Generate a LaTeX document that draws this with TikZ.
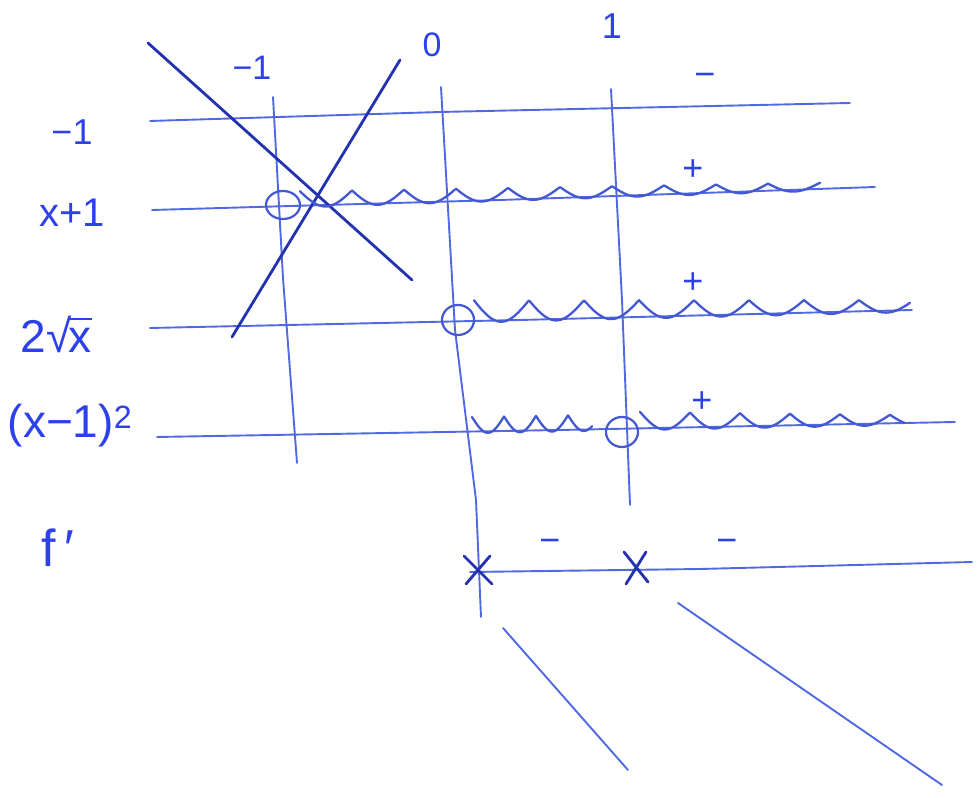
\documentclass[tikz,border=0pt]{standalone}
\usepackage{fontspec}
\setmainfont{Liberation Sans}
\usetikzlibrary{calc}
\definecolor{gridc}{RGB}{80,105,225}
\definecolor{ink}{RGB}{45,65,235}
\definecolor{dark}{RGB}{35,50,175}
\newcommand{\fsz}[1]{\fontsize{#1}{#1}\selectfont}
\newcommand{\sqrtx}{2√\kern-0.06em\vbox{\hrule height 2.2pt\kern 0.16em\hbox{x}}}
\begin{document}
\begin{tikzpicture}[x=1pt,y=1pt,
  gridline/.style={gridc, line width=1.9pt, line cap=round},
  wave/.style={gridc!70!dark, line width=2.3pt, line cap=round, line join=round},
  crossline/.style={dark, line width=2.8pt, line cap=round},
  lbl/.style={ink, inner sep=0pt},
  sgn/.style={ink, font=\fsz{36}, inner sep=0pt},
  hole/.style={gridc!70!dark, line width=2.2pt},
]
\useasboundingbox (0,0) rectangle (978,798);
\fill[white] (0,0) rectangle (978,798);

% row labels
\node[lbl, font=\fsz{36}] (lm1) at (72,666) {−1};
\node[lbl, font=\fsz{40}] (lx1) at (72,585) {x+1};
\node[lbl, font=\fsz{46}] (lsq) at (56,464) {\sqrtx};
\node[lbl, font=\fsz{46}] (lsqr) at (70,372) {(x−1)\textsuperscript{2}};
\node[lbl, font=\fsz{52}] (lf) at (58,250) {f\,′};

% column labels
\node[lbl, font=\fsz{34}] (cm1) at (252,730) {−1};
\node[lbl, font=\fsz{34}] (c0) at (432,753) {0};
\node[lbl, font=\fsz{36}] (c1) at (612,772) {1};

% horizontal lines
\draw[gridline] (150,677) -- (440,686) -- (850,695);
\draw[gridline] (152,588) -- (500,598) -- (875,611);
\draw[gridline] (150,470) -- (520,478) -- (912,488);
\draw[gridline] (157,361) -- (560,368) -- (955,376);
\draw[gridline] (470,226) -- (700,229) -- (972,236);

% vertical lines
\draw[gridline] (273,701) -- (283,520) -- (297,335);
\draw[gridline] (441,711) -- (455,468) -- (476,298) -- (481,181);
\draw[gridline] (611,709) -- (622,498) -- (630,293);

% big cross
\draw[crossline] (148,755) -- (412,518);
\draw[crossline] (400,738) -- (232,461);

% open circles
\draw[hole] (283,593) ellipse (17 and 14);
\draw[hole] (458,478) ellipse (16 and 15);
\draw[hole] (622,366) ellipse (16 and 15);

% wavy sign lines
\draw[wave] plot[domain=300:820, samples=400, variable=\t]
  (\t, {588+0.0318*(\t-152) + (16-(\t-300)/65)*(1-abs(sin((\t-300)*3.4615))) - 2});
\draw[wave] plot[domain=474:910, samples=400, variable=\t]
  (\t, {470+0.0236*(\t-150) + (22-(\t-474)/43.6)*(1-abs(sin((\t-474)*3.2727))) - 2});
\draw[wave] plot[domain=472:592, samples=200, variable=\t]
  (\t, {361+0.0188*(\t-157) + 16*(1-abs(sin((\t-472)*5.625))) - 2});
\draw[wave] plot[domain=640:905, samples=300, variable=\t]
  (\t, {361+0.0188*(\t-157) + (18-(\t-640)/33.1)*(1-abs(sin((\t-640)*3.6))) - 2});

% signs
\node[sgn] (s1) at (705,718) {−};
\node[sgn] (s2) at (693,628) {+};
\node[sgn] (s3) at (693,515) {+};
\node[sgn] (s4) at (702,396) {+};
\node[sgn] (s5) at (550,252) {−};
\node[sgn] (s6) at (727,252) {−};

% X marks on f' line
\coordinate (x1) at (478,228);
\coordinate (x2) at (636,230);
\draw[crossline] ($(x1)+(-14,14)$) -- ($(x1)+(14,-14)$);
\draw[crossline] ($(x1)+(-12,-14)$) -- ($(x1)+(12,14)$);
\draw[crossline] ($(x2)+(-12,16)$) -- ($(x2)+(12,-14)$);
\draw[crossline] ($(x2)+(-10,-16)$) -- ($(x2)+(10,16)$);

% lower diagonal strokes
\coordinate (d1a) at (503,170);
\coordinate (d1b) at (628,28);
\coordinate (d2a) at (678,195);
\coordinate (d2b) at (942,13);
\draw[gridline] (d1a) -- (d1b);
\draw[gridline] (d2a) -- (d2b);
\end{tikzpicture}
\end{document}
